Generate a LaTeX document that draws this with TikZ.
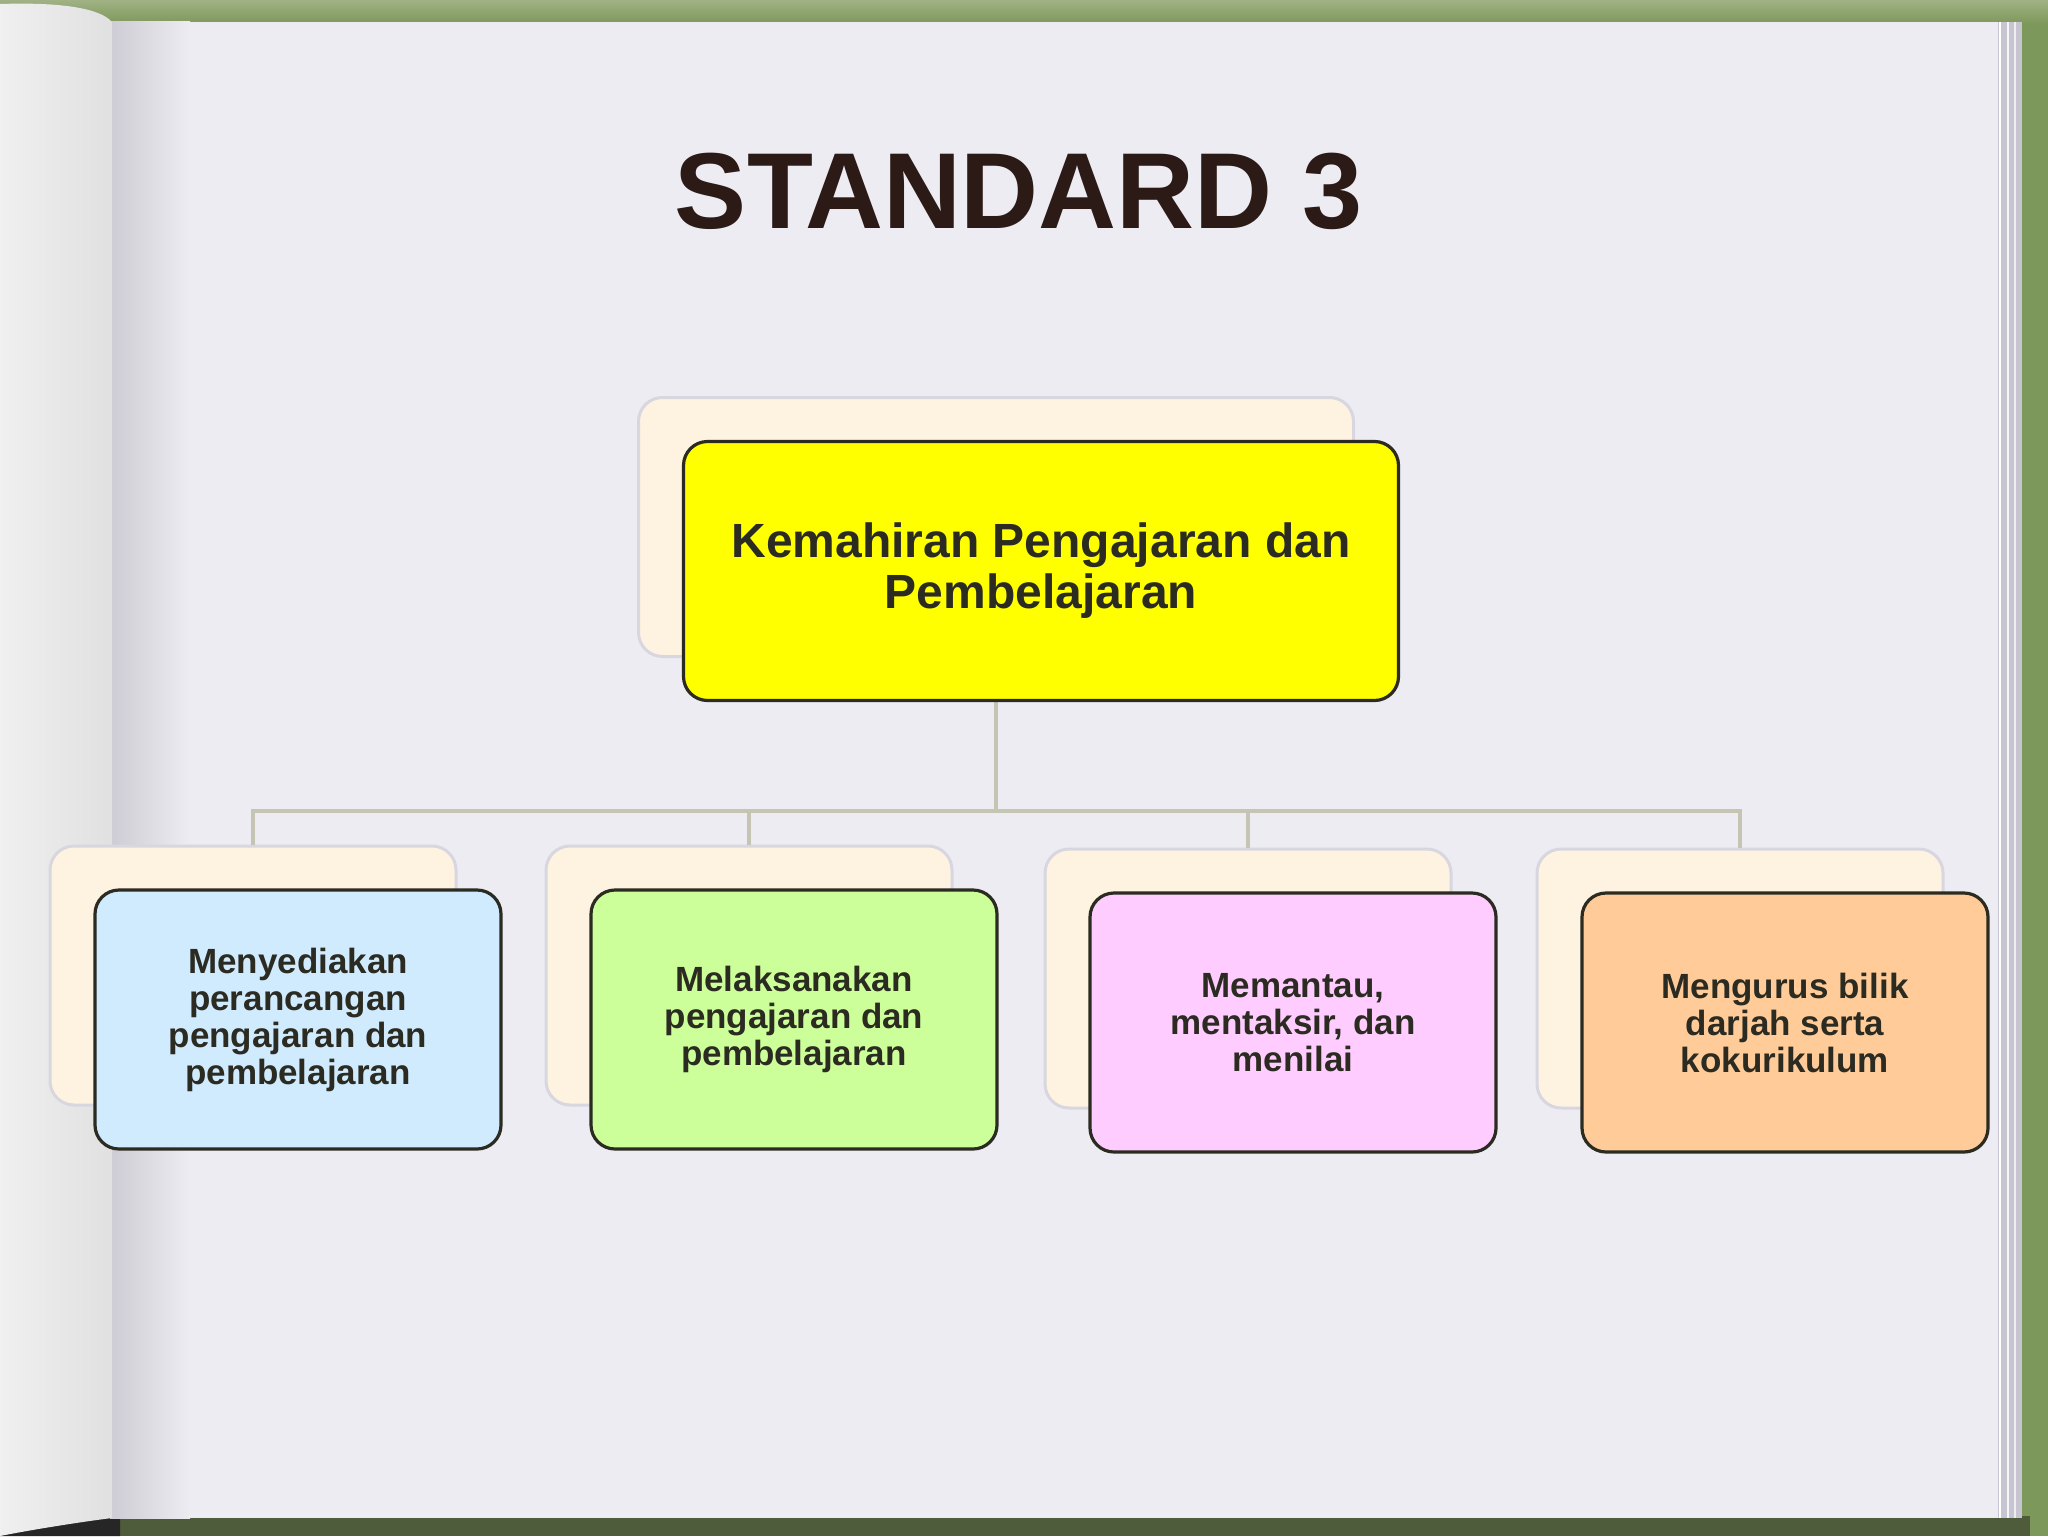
\documentclass[tikz,border=0pt]{standalone}
\usepackage{fontspec}
\setmainfont{Liberation Sans}
\usepackage{xcolor}
\usepackage{tikz}
\usetikzlibrary{calc}

\definecolor{cover}{HTML}{7D985B}
\definecolor{coverlight}{HTML}{A0B284}
\definecolor{coverdark}{HTML}{4E5C3C}
\definecolor{paper}{HTML}{EDECF2}
\definecolor{papershade}{HTML}{CDCCD4}
\definecolor{stack}{HTML}{C6C5D1}
\definecolor{cream}{HTML}{FEF2E1}
\definecolor{creamline}{HTML}{D8D7E0}
\definecolor{ink}{HTML}{2B2B22}
\definecolor{titleink}{HTML}{2C1A16}
\definecolor{linkline}{HTML}{C6C5B3}
\definecolor{kuning}{HTML}{FFFF00}
\definecolor{biru}{HTML}{D0EAFE}
\definecolor{hijau}{HTML}{CCFF99}
\definecolor{jambu}{HTML}{FFCCFF}
\definecolor{jingga}{HTML}{FFCC99}

\tikzset{
	backbox/.style={draw=creamline, line width=1.5pt, fill=cream, rounded corners=12pt, minimum width=#1, minimum height=129.5pt},
	backbox/.default=203pt,
	frontbox/.style={draw=ink, line width=1.6pt, fill=#1, rounded corners=12pt, minimum width=203pt, minimum height=129.5pt, align=center, text=ink, font=\fontsize{17.5}{18.5}\selectfont\bfseries},
	link/.style={draw=linkline, line width=2pt},
	titletext/.style={inner sep=0pt, text=titleink, font=\fontsize{54}{60}\selectfont\bfseries}
}

\begin{document}
\begin{tikzpicture}[x=0.5pt, y=-0.5pt]
		%definition of offset between back and front boxes
		\def\dx{45}
		\def\dy{44}
		
		%cover, page stack and curled page
		\useasboundingbox (0,0) rectangle (2048,1536);
		\fill [cover] (0,0) rectangle (2048,1536);
		\shade [top color=coverlight, bottom color=cover] (0,0) rectangle (2048,24);
		\fill [coverdark] (0,1516) rectangle (2030,1536);
		\fill [black!85] (0,1490) -- (120,1516) -- (120,1536) -- (0,1536) -- cycle;
		\fill [paper] (110,22) rectangle (1998,1518);
		\shade [left color=papershade, right color=paper] (110,22) rectangle (190,1518);
		\fill [stack] (1998,22) rectangle (2022,1518);
		\draw [white, line width=1pt] (2000,22) -- (2000,1518);
		\draw [white!85!stack, line width=1pt] (2008,22) -- (2008,1518);
		\draw [white!70!stack, line width=1pt] (2015,22) -- (2015,1518);
		\shade [left color=black!6, middle color=white!97!black, right color=black!12] (0,4) .. controls (60,2) and (100,8) .. (112,22) -- (112,1518) .. controls (80,1522) and (30,1530) .. (0,1536) -- cycle;
		
		%title
		\node [titletext] (judul) at (1019,191) {STANDARD 3};
		
		%back boxes
		\node [backbox=357.5pt] (kpp0) at (996,527) {};
		\node [backbox] (a0) at (253,975.5) {};
		\node [backbox] (b0) at (749,975.5) {};
		\node [backbox] (c0) at (1248,978.5) {};
		\node [backbox] (d0) at (1740,978.5) {};
		
		%connectors
		\coordinate (cabang) at (996,811);
		\draw [link] (kpp0.south) -- (cabang);
		\draw [link] (cabang) -| (a0.north);
		\draw [link] (cabang) -| (b0.north);
		\draw [link] (cabang) -| (c0.north);
		\draw [link] (cabang) -| (d0.north);
		
		%front boxes
		\node [frontbox=kuning, minimum width=357.5pt, font=\fontsize{24}{25.5}\selectfont\bfseries] (kpp) at ([shift={(\dx,\dy)}]kpp0.center) {Kemahiran Pengajaran dan\\Pembelajaran};
		\node [frontbox=biru] (a) at ([shift={(\dx,\dy)}]a0.center) {Menyediakan\\perancangan\\pengajaran dan\\pembelajaran};
		\node [frontbox=hijau] (b) at ([shift={(\dx,\dy)}]b0.center) {Melaksanakan\\pengajaran dan\\pembelajaran};
		\node [frontbox=jambu] (c) at ([shift={(\dx,\dy)}]c0.center) {Memantau,\\mentaksir, dan\\menilai};
		\node [frontbox=jingga] (d) at ([shift={(\dx,\dy)}]d0.center) {Mengurus bilik\\darjah serta\\kokurikulum};
	\end{tikzpicture}
\end{document}
